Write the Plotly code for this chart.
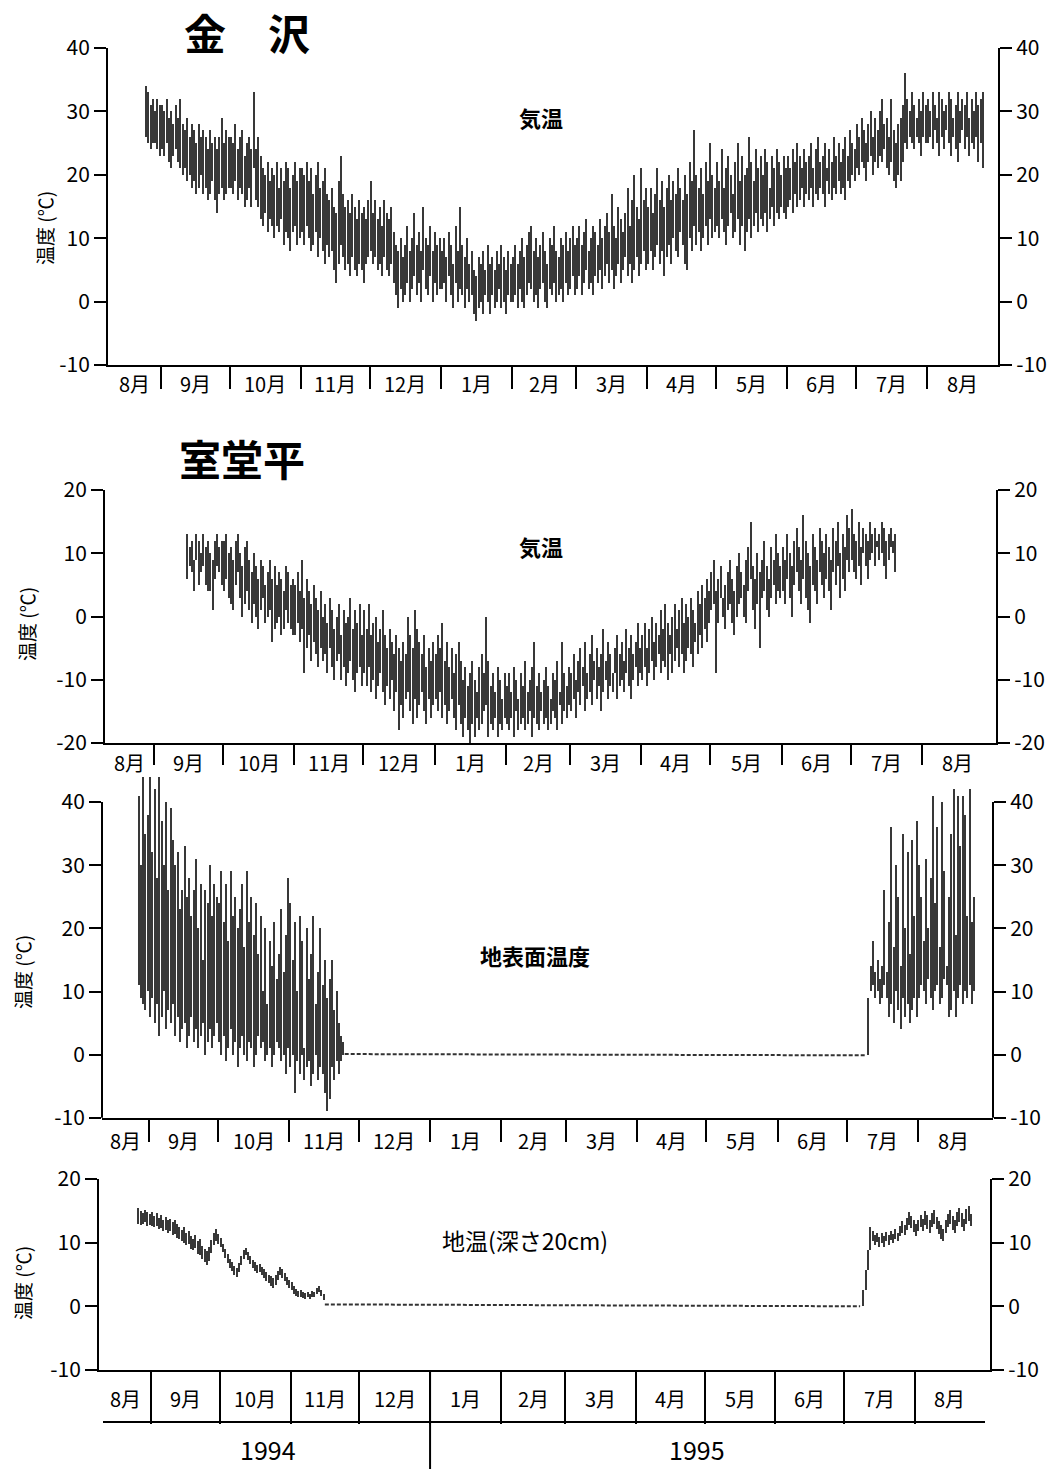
import pandas as pd
import plotly.graph_objects as go

# ---------------- data ----------------
MONTH_LABELS = ["8月", "9月", "10月", "11月", "12月", "1月", "2月", "3月",
                "4月", "5月", "6月", "7月", "8月"]
MONTH_STARTS = ["1994-08-01", "1994-09-01", "1994-10-01", "1994-11-01", "1994-12-01",
                "1995-01-01", "1995-02-01", "1995-03-01", "1995-04-01", "1995-05-01",
                "1995-06-01", "1995-07-01", "1995-08-01"]
YEAR_LABELS = ["1994", "1995"]

# 金沢 気温 : daily max / min from 1994-08-25
K_START = "1994-08-25"
K_HI = [34, 33, 31, 32, 30, 32, 31,
        31, 30, 32, 29, 30, 28, 31, 29, 32, 28, 27, 29, 26, 28, 27, 25, 28, 26, 27, 26, 24, 27, 25, 26, 24, 26, 29, 25, 27, 26,
        26, 25, 28, 24, 26, 27, 23, 25, 26, 24, 33, 24, 26, 23, 21, 20, 22, 19, 21, 20, 22, 18, 21, 19, 22, 21, 18, 20, 22, 19, 21,
        21, 20, 22, 19, 21, 17, 20, 22, 18, 19, 21, 17, 16, 18, 15, 14, 19, 23, 17, 15, 16, 14, 17, 15, 13, 16, 14, 15, 13, 16,
        19, 14, 16, 13, 15, 12, 16, 14, 13, 15, 11, 9, 8, 10, 7, 9, 12, 8, 10, 14, 9, 11, 8, 15, 10, 9, 12, 8, 11, 9, 10,
        8, 10, 7, 11, 9, 6, 12, 8, 15, 9, 7, 10, 6, 8, 5, 4, 7, 6, 8, 5, 9, 6, 7, 5, 8, 6, 9, 7, 5, 8, 6,
        7, 9, 6, 8, 10, 7, 9, 11, 12, 8, 10, 7, 9, 11, 8, 6, 10, 9, 12, 8, 7, 10, 9, 11, 8, 10, 12, 9,
        10, 12, 9, 11, 13, 8, 10, 12, 11, 9, 13, 10, 12, 14, 11, 17, 12, 10, 15, 13, 11, 14, 18, 12, 16, 20, 15, 13, 21, 16, 18,
        15, 18, 14, 17, 21, 16, 19, 15, 18, 20, 16, 19, 17, 21, 18, 16, 20, 17, 22, 19, 27, 20, 18, 21, 17, 22, 19, 25, 20, 18,
        22, 19, 24, 18, 21, 23, 20, 17, 22, 25, 19, 23, 20, 21, 26, 22, 19, 24, 21, 23, 20, 24, 22, 18, 23, 21, 24, 22, 20, 23, 21,
        23, 21, 24, 22, 25, 23, 21, 24, 22, 23, 25, 21, 24, 26, 22, 23, 25, 21, 24, 22, 26, 23, 25, 22, 24, 26, 23, 27, 25, 24,
        28, 26, 29, 27, 25, 28, 30, 26, 29, 27, 30, 32, 28, 29, 26, 32, 27, 25, 28, 29, 31, 36, 32, 30, 33, 31, 29, 32, 30, 33, 31,
        32, 30, 33, 31, 29, 33, 32, 30, 31, 33, 32, 29, 31, 33, 30, 32, 31, 33, 29, 32, 30, 33, 31, 32, 33]
K_LO = [26, 25, 24, 25, 25, 24, 23,
        24, 23, 25, 22, 21, 23, 24, 22, 21, 20, 21, 19, 20, 18, 19, 17, 18, 20, 17, 18, 16, 17, 19, 16, 14, 17, 18, 16, 17, 18,
        18, 17, 19, 16, 18, 17, 15, 16, 18, 15, 21, 16, 15, 13, 12, 14, 11, 13, 12, 10, 12, 11, 13, 9, 11, 10, 8, 11, 12, 9, 10,
        11, 9, 12, 10, 8, 9, 11, 7, 10, 8, 6, 9, 7, 8, 5, 3, 6, 9, 7, 5, 6, 4, 7, 5, 4, 6, 5, 3, 6, 7,
        8, 6, 7, 5, 6, 4, 7, 5, 4, 6, 3, 1, -1, 2, 0, 1, 3, 0, 2, 4, 1, 3, 0, 5, 2, 1, 4, 0, 3, 1, 2,
        2, 3, 0, 4, 1, -1, 3, 0, 2, 1, -1, 2, 0, 1, -2, -3, -1, 0, -2, 1, 0, -2, 1, -1, 0, 2, -1, 0, -2, 1, 0,
        0, 1, -1, 2, 0, -1, 1, 3, 2, 0, 1, -1, 2, 3, 0, -1, 2, 1, 3, 0, 1, 2, 0, 3, 1, 2, 4, 1,
        2, 4, 1, 3, 5, 2, 3, 1, 4, 3, 5, 2, 4, 6, 3, 5, 2, 4, 6, 3, 5, 7, 4, 6, 3, 5, 7, 4, 6, 8, 5,
        6, 8, 5, 7, 9, 6, 8, 4, 7, 9, 6, 10, 8, 7, 11, 9, 6, 5, 10, 8, 12, 9, 11, 8, 10, 12, 9, 13, 10, 11,
        12, 10, 13, 11, 9, 12, 14, 10, 11, 13, 9, 12, 8, 11, 13, 10, 12, 14, 11, 13, 12, 14, 11, 13, 15, 12, 14, 13, 15, 14, 13,
        15, 16, 14, 17, 15, 16, 18, 15, 17, 16, 18, 15, 17, 16, 18, 17, 15, 19, 17, 16, 18, 17, 19, 17, 18, 16, 19, 18, 20, 19,
        21, 20, 22, 21, 19, 22, 23, 20, 22, 21, 23, 22, 24, 21, 20, 22, 19, 18, 20, 19, 22, 25, 24, 26, 25, 24, 26, 25, 23, 26, 25,
        25, 26, 24, 27, 25, 23, 26, 24, 27, 25, 23, 26, 24, 22, 25, 27, 24, 26, 23, 25, 24, 26, 22, 25, 21]

# 室堂平 気温 : daily max / min from 1994-09-15
M_START = "1994-09-15"
M_HI = [13, 11, 12, 9, 13, 12, 10, 13, 11, 12, 10, 9, 12, 13, 11, 12,
        12, 13, 10, 11, 9, 12, 13, 10, 8, 11, 12, 9, 7, 10, 8, 6, 9, 8, 5, 7, 9, 6, 8, 5, 7, 6, 4, 8, 7, 5, 6,
        5, 7, 4, 9, 3, 6, 4, 2, 5, 3, 1, 4, 0, 2, -1, 3, 1, -2, 0, 2, -3, 1, -1, 0, 3, -2, 1, -1, 2, -3,
        1, -2, 2, -3, -1, 0, -4, -2, 1, -3, -5, -2, -4, -6, -3, -5, -7, -4, -6, 0, -3, -5, 1, -2, -4, -6, -3, -8, -5, -7, -4,
        -6, -3, -5, -1, -7, -4, -8, -5, -9, -6, -4, -7, -10, -8, -11, -9, -7, -10, -12, -8, -6, -9, 0, -7, -11, -9, -12, -8, -10, -13, -9,
        -11, -9, -12, -8, -10, -13, -9, -11, -7, -12, -10, -8, -4, -11, -9, -12, -10, -8, -11, -13, -9, -10, -7, -12, -4, -9, -11, -8,
        -9, -6, -10, -7, -5, -8, -4, -9, -6, -3, -7, -5, -8, -6, -2, -7, -4, -6, -9, -5, -3, -6, -4, -7, -2, -5, -3, -6, -4, -1, -5,
        -3, -1, -5, -2, 0, -4, -1, -3, 1, -2, 2, -1, -3, 0, 2, -2, 1, 3, -1, 2, 0, 3, 1, -1, 4, 2, 5, 3, 6, 4,
        7, 9, 4, 6, 8, 3, 5, 7, 9, 6, 4, 8, 10, 7, 5, 9, 11, 15, 8, 6, 10, 7, 9, 12, 8, 6, 11, 9, 13, 10, 8,
        11, 9, 13, 10, 8, 12, 14, 11, 9, 16, 12, 10, 8, 13, 11, 9, 14, 12, 10, 13, 11, 9, 14, 12, 15, 10, 13, 11, 16, 14,
        17, 13, 12, 15, 11, 14, 13, 12, 15, 13, 14, 12, 13, 15, 14, 12, 13, 14, 12, 13]
M_LO = [6, 8, 7, 4, 9, 5, 7, 8, 5, 4, 4, 1, 6, 8, 7, 5,
        4, 6, 3, 2, 1, 5, 7, 3, 0, 2, 4, 1, -1, 2, 0, -2, 1, 3, -1, 0, 1, -4, -2, -1, 0, -3, -2, 1, -1, -2, -3,
        -3, -1, -4, -2, -9, -5, -3, -7, -4, -6, -8, -5, -7, -6, -9, -5, -8, -10, -7, -6, -10, -8, -11, -9, -7, -10, -12, -9, -8, -11,
        -9, -11, -8, -12, -10, -13, -11, -9, -12, -14, -11, -13, -10, -15, -12, -18, -14, -16, -13, -12, -15, -17, -13, -16, -14, -12, -15, -17, -13, -16, -14,
        -13, -15, -12, -16, -14, -17, -15, -13, -16, -18, -14, -17, -19, -16, -18, -20, -17, -19, -16, -18, -17, -15, -14, -19, -17, -18, -16, -19, -17, -18, -16,
        -17, -18, -16, -19, -15, -18, -17, -16, -18, -17, -15, -19, -16, -17, -18, -15, -17, -16, -18, -17, -15, -16, -18, -14, -17, -15, -16, -14,
        -15, -13, -16, -12, -14, -11, -15, -13, -12, -14, -10, -13, -11, -15, -12, -10, -13, -11, -12, -9, -13, -11, -10, -12, -9, -11, -13, -10, -8, -11, -9,
        -10, -8, -11, -9, -7, -10, -8, -6, -9, -7, -8, -10, -6, -9, -7, -5, -8, -6, -9, -7, -5, -6, -8, -4, -6, -3, -5, -2, -4, -1,
        1, 2, -9, -1, 3, 0, -2, 1, 2, -1, -3, 0, 2, 3, 0, -1, 4, 6, 1, -2, 2, -5, 3, 4, 1, 0, 3, 5, 2, 4, 3,
        4, 2, 6, 3, 0, 5, 7, 4, 2, 6, 3, 1, -1, 5, 4, 2, 7, 5, 3, 6, 4, 1, 7, 5, 8, 3, 6, 4, 9, 7,
        9, 7, 6, 8, 5, 10, 8, 6, 9, 10, 8, 11, 9, 10, 8, 6, 9, 11, 10, 7]

# 室堂平 地表面温度
S_START1 = "1994-08-27"
S_HI1 = [41, 30, 44, 35, 38,
         44, 32, 42, 28, 44, 37, 30, 40, 26, 39, 34, 30, 32, 23, 26, 33, 25, 28, 22, 26, 31, 20, 27, 15, 26, 24, 30, 22, 27, 25,
         24, 29, 21, 27, 18, 29, 22, 25, 20, 23, 27, 17, 29, 21, 25, 19, 24, 16, 22, 10, 20, 8, 18, 14, 21, 12, 16, 23, 13, 19, 28,
         24, 15, 21, 10, 22, 18, 1, 20, 12, 16, 22, 8, 13, 20, 11, 15, 9, 12, 15, 7, 10, 5, 3, 2]
S_LO1 = [11, 9, 8, 7, 10,
         6, 9, 5, 8, 3, 6, 10, 4, 7, 5, 8, 3, 6, 2, 4, 5, 1, 3, 6, 2, 4, 1, 3, 5, 0, 2, 4, 1, 3, 5,
         2, 0, 3, -1, 1, 4, 0, 2, -2, 1, 3, 0, -1, 2, 1, -2, 0, 3, 1, 2, -1, 0, 1, -2, 0, 2, 1, -1, 0, -3, 1,
         -2, 0, -6, -1, -3, 0, -4, -2, -1, -5, -3, 0, -4, -2, -3, -6, -9, -7, -2, -4, -1, -3, -1, 0]
S_FLAT_DATES = ["1994-11-25", "1995-07-09"]
S_FLAT_T = [0.1, -0.1]
S_START2 = "1995-07-10"
S_HI2 = [9, 14, 18, 13, 15, 12, 14, 26, 13, 21, 36, 17, 30, 25, 14, 35, 20, 32, 16, 34, 22, 37,
         30, 25, 18, 31, 20, 28, 41, 24, 36, 17, 40, 29, 14, 25, 35, 42, 19, 41, 33, 41, 38, 22, 42, 21, 25]
S_LO2 = [0, 10, 11, 9, 10, 8, 9, 11, 9, 6, 8, 5, 10, 7, 4, 9, 6, 8, 5, 7, 9, 6,
         9, 11, 10, 8, 12, 9, 7, 10, 11, 8, 9, 12, 11, 6, 7, 10, 6, 9, 11, 8, 10, 9, 11, 8, 10]

# 室堂平 地温(深さ20cm)
G_START1 = "1994-08-26"
G_HI1 = [15.5, 15.0, 14.6, 15.2, 14.8, 14.5,
         14.9, 14.2, 14.6, 13.9, 14.3, 13.6, 14.1, 13.5, 13.8, 13.2, 13.6, 12.9, 12.5, 12.0, 12.4, 11.5, 11.9, 11.0, 10.6, 11.2,
         10.2, 10.6, 9.5, 9.0, 8.7, 9.3, 10.5, 11.6, 12.2, 11.4,
         10.8, 9.8, 9.0, 8.2, 7.5, 7.0, 6.4, 6.0, 6.8, 7.9, 8.9, 9.2, 8.6, 7.9, 7.3, 6.9, 6.5, 6.7, 6.2, 5.8,
         5.4, 5.0, 4.7, 4.4, 4.9, 5.6, 6.2, 5.8, 5.2, 4.6, 4.1,
         3.8, 3.2, 2.7, 2.4, 2.5, 2.2, 2.1, 2.3, 2.0, 2.4, 2.2, 2.9, 3.2, 2.6, 2.0]
G_LO1 = [13.0, 12.8, 12.9, 13.2, 12.6, 12.8,
         12.6, 12.4, 12.7, 12.1, 12.3, 11.8, 12.0, 11.6, 11.9, 11.2, 11.4, 10.8, 10.6, 10.2, 10.0, 9.6, 9.8, 9.0, 8.8, 9.1,
         8.3, 8.0, 7.4, 7.0, 6.5, 7.2, 8.4, 9.6, 10.3, 9.8,
         9.4, 8.5, 7.6, 6.8, 6.0, 5.5, 5.0, 4.6, 5.4, 6.5, 7.5, 8.0, 7.3, 6.6, 6.0, 5.6, 5.2, 5.4, 4.9, 4.4,
         4.0, 3.6, 3.2, 2.9, 3.4, 4.2, 4.9, 4.5, 3.9, 3.3, 2.8,
         2.5, 2.0, 1.6, 1.4, 1.5, 1.3, 1.2, 1.4, 1.2, 1.5, 1.4, 1.9, 2.2, 1.6, 1.0]
G_FLAT_DATES = ["1994-11-16", "1995-07-08"]
G_FLAT_T = [0.3, 0.0]
G_START2 = "1995-07-09"
G_HI2 = [2.6, 5.7, 8.9, 12.5, 11.8, 11.2, 11.6, 10.9, 11.5, 11.0, 11.7, 11.2, 11.9, 11.4, 12.2, 11.6, 12.6, 13.4, 12.8, 13.9,
         14.8, 14.2, 13.5,
         12.9, 13.6, 14.4, 13.8, 15.0, 14.3, 13.5, 14.6, 15.2, 14.1, 13.4, 12.8, 12.2, 13.6, 14.5, 15.1, 14.2, 13.5, 14.8, 15.4,
         14.6, 13.8, 15.3, 15.8, 14.5]
G_LO2 = [0.0, 2.6, 5.7, 8.9, 10.2, 9.6, 10.1, 9.4, 10.0, 9.3, 10.3, 9.6, 10.4, 10.0, 10.6, 10.2, 11.0, 11.6, 11.2, 12.0,
         12.8, 12.3, 11.7,
         11.0, 11.8, 12.4, 11.9, 12.8, 12.2, 11.5, 12.5, 13.0, 12.1, 11.4, 10.6, 10.2, 11.5, 12.4, 12.9, 12.0, 11.6, 12.6, 13.2,
         12.4, 11.9, 13.0, 13.4, 12.6]

# ---------------- layout geometry (pixels) ----------------
W, H = 1058, 1469
FONT = "Noto Sans CJK JP"
NUMFONT = "Liberation Sans Narrow, Noto Sans CJK JP"
BAR_COLOR = "#383838"
DAY_MS = 86400000

# top/bottom = pixel rows of the ymax / ymin ticks; vtop = value at the top of the plot area
PANELS = [
    dict(left=108, right=998, top=48, bottom=365, sep1=161, aug1=927, ymin=-10, ymax=40, vtop=40, sepl=22, lab_y=384),
    dict(left=105, right=996, top=490, bottom=743, sep1=154, aug1=922, ymin=-20, ymax=20, vtop=20, sepl=20, lab_y=762),
    dict(left=102, right=993, top=802, bottom=1118, sep1=149, aug1=918, ymin=-10, ymax=40, vtop=46, sepl=22, lab_y=1140),
    dict(left=99, right=990, top=1179, bottom=1370, sep1=151, aug1=915, ymin=-10, ymax=20, vtop=20, sepl=52, lab_y=1398),
]


def px_x(p):
    return p / W


def px_y(p):
    return 1 - p / H


def x_range(P):
    t0 = pd.Timestamp("1994-09-01")
    t1 = pd.Timestamp("1995-08-01")
    per_px = (t1 - t0) / (P["aug1"] - P["sep1"])
    return [t0 + (P["left"] - P["sep1"]) * per_px, t0 + (P["right"] - P["sep1"]) * per_px]


fig = go.Figure()


def ids(k):
    s = "" if k == 1 else str(k)
    return "x" + s, "y" + s


def add_bars(start, hi, lo, k):
    n = min(len(hi), len(lo))
    dates = pd.date_range(start, periods=n, freq="D") + pd.Timedelta(hours=12)
    xid, yid = ids(k)
    fig.add_trace(go.Bar(
        x=dates, base=lo[:n], y=[h - l for h, l in zip(hi[:n], lo[:n])],
        width=0.55 * DAY_MS, marker=dict(color=BAR_COLOR, line=dict(width=0)),
        xaxis=xid, yaxis=yid, showlegend=False, hoverinfo="skip"))


def add_flat(dates, vals, k):
    xid, yid = ids(k)
    fig.add_trace(go.Scatter(
        x=pd.to_datetime(dates), y=vals, mode="lines",
        line=dict(color="#333333", width=2, dash="4px,2px"),
        xaxis=xid, yaxis=yid, showlegend=False, hoverinfo="skip"))


add_bars(K_START, K_HI, K_LO, 1)
add_bars(M_START, M_HI, M_LO, 2)
add_bars(S_START1, S_HI1, S_LO1, 3)
add_flat(S_FLAT_DATES, S_FLAT_T, 3)
add_bars(S_START2, S_HI2, S_LO2, 3)
add_bars(G_START1, G_HI1, G_LO1, 4)
add_flat(G_FLAT_DATES, G_FLAT_T, 4)
add_bars(G_START2, G_HI2, G_LO2, 4)

# empty helper traces so the right-hand axes get drawn
for k in range(1, 5):
    xid, _ = ids(k)
    fig.add_trace(go.Scatter(x=[], y=[], xaxis=xid, yaxis=f"y{k + 4}",
                             showlegend=False, hoverinfo="skip"))

layout = dict(
    width=W, height=H, margin=dict(l=0, r=0, t=0, b=0, autoexpand=False),
    paper_bgcolor="white", plot_bgcolor="rgba(0,0,0,0)",
    showlegend=False, bargap=0, font=dict(family=FONT, color="black", size=20),
)

annotations = []
shapes = []
month_starts = pd.to_datetime(MONTH_STARTS)

for i, P in enumerate(PANELS):
    k = i + 1
    sx = "" if k == 1 else str(k)
    xid, yid = ids(k)
    rng = x_range(P)
    ppu = (P["bottom"] - P["top"]) / (P["ymax"] - P["ymin"])
    dom_top = P["top"] - (P["vtop"] - P["ymax"]) * ppu
    extended = P["vtop"] > P["ymax"]
    yr = [P["ymin"] - 0.02, P["vtop"] + (0 if extended else 0.02)]
    yticks = list(range(P["ymin"], P["ymax"] + 1, 10))
    layout["xaxis" + sx] = dict(
        domain=[px_x(P["left"]), px_x(P["right"])], anchor=yid, type="date", range=rng,
        showline=True, linecolor="black", linewidth=2,
        tickmode="array", tickvals=month_starts, ticktext=[""] * len(month_starts),
        ticks="outside", ticklen=P["sepl"], tickwidth=2, tickcolor="black",
        showticklabels=False, showgrid=False, zeroline=False, fixedrange=True)
    yax = dict(
        range=yr, tickmode="array", tickvals=yticks, ticktext=[str(v) for v in yticks],
        ticks="outside", ticklen=12, tickwidth=2, tickcolor="black",
        showline=not extended, linecolor="black", linewidth=2, showgrid=False, zeroline=False,
        tickfont=dict(family=NUMFONT, size=21, color="black"), fixedrange=True)
    layout["yaxis" + sx] = dict(yax, domain=[px_y(P["bottom"]), px_y(dom_top)], anchor=xid, side="left")
    layout["yaxis" + str(k + 4)] = dict(yax, overlaying=yid, anchor=xid, side="right")
    if extended:
        for xp in (P["left"], P["right"]):
            shapes.append(dict(type="line", xref="paper", yref=yid, x0=px_x(xp), x1=px_x(xp),
                               y0=P["ymin"], y1=P["ymax"], line=dict(color="black", width=2)))

    # month labels centred in the visible part of each month
    r0, r1 = pd.Timestamp(rng[0]), pd.Timestamp(rng[1])
    for j, lab in enumerate(MONTH_LABELS):
        a = max(month_starts[j], r0)
        b = month_starts[j + 1] if j + 1 < len(month_starts) else pd.Timestamp("1995-09-01")
        b = min(b, r1)
        if k == 4 and j == len(MONTH_LABELS) - 1:
            b = min(b, pd.Timestamp("1995-08-31"))
        mid = a + (b - a) / 2
        annotations.append(dict(
            x=mid, y=px_y(P["lab_y"]), xref=xid, yref="paper", text=lab, showarrow=False,
            xanchor="center", yanchor="middle", font=dict(size=20, family=FONT)))

# y-axis titles
for (xp, yp) in [(45, 228), (26, 624), (22, 972), (22, 1283)]:
    annotations.append(dict(
        x=px_x(xp), y=px_y(yp), xref="paper", yref="paper", text="温度 (℃)", textangle=-90,
        showarrow=False, xanchor="center", yanchor="middle", font=dict(size=19, family=FONT)))

# station titles and panel captions
extra = [
    dict(x=px_x(247), y=px_y(31), text="<b>金　沢</b>", font=dict(size=42, family=FONT)),
    dict(x=px_x(242), y=px_y(457), text="<b>室堂平</b>", font=dict(size=42, family=FONT)),
    dict(x=px_x(541), y=px_y(117), text="<b>気温</b>", font=dict(size=22, family=FONT)),
    dict(x=px_x(541), y=px_y(546), text="<b>気温</b>", font=dict(size=22, family=FONT)),
    dict(x=px_x(535), y=px_y(955), text="<b>地表面温度</b>", font=dict(size=22, family=FONT)),
    dict(x=px_x(525), y=px_y(1240), text="地温(深さ20cm)", font=dict(size=23, family=FONT)),
    dict(x=px_x(268), y=px_y(1449), text=YEAR_LABELS[0], font=dict(size=25, family=NUMFONT)),
    dict(x=px_x(697), y=px_y(1449), text=YEAR_LABELS[1], font=dict(size=25, family=NUMFONT)),
]
for a in extra:
    a.update(xref="paper", yref="paper", showarrow=False, xanchor="center", yanchor="middle")
annotations += extra

# table lines under the last panel
shapes.append(dict(type="line", xref="paper", yref="paper", x0=px_x(103), x1=px_x(985),
                   y0=px_y(1422), y1=px_y(1422), line=dict(color="black", width=2)))
shapes.append(dict(type="line", xref="x4", yref="paper", x0="1995-01-01", x1="1995-01-01",
                   y0=px_y(1370), y1=px_y(1469), line=dict(color="black", width=2)))

layout["annotations"] = annotations
layout["shapes"] = shapes
fig.update_layout(**layout)

fig.write_html(
    "out.html",
    config={"displayModeBar": False},
    post_script="document.body.style.margin='0';document.body.style.overflow='hidden';"
                "document.documentElement.style.overflow='hidden';",
)
